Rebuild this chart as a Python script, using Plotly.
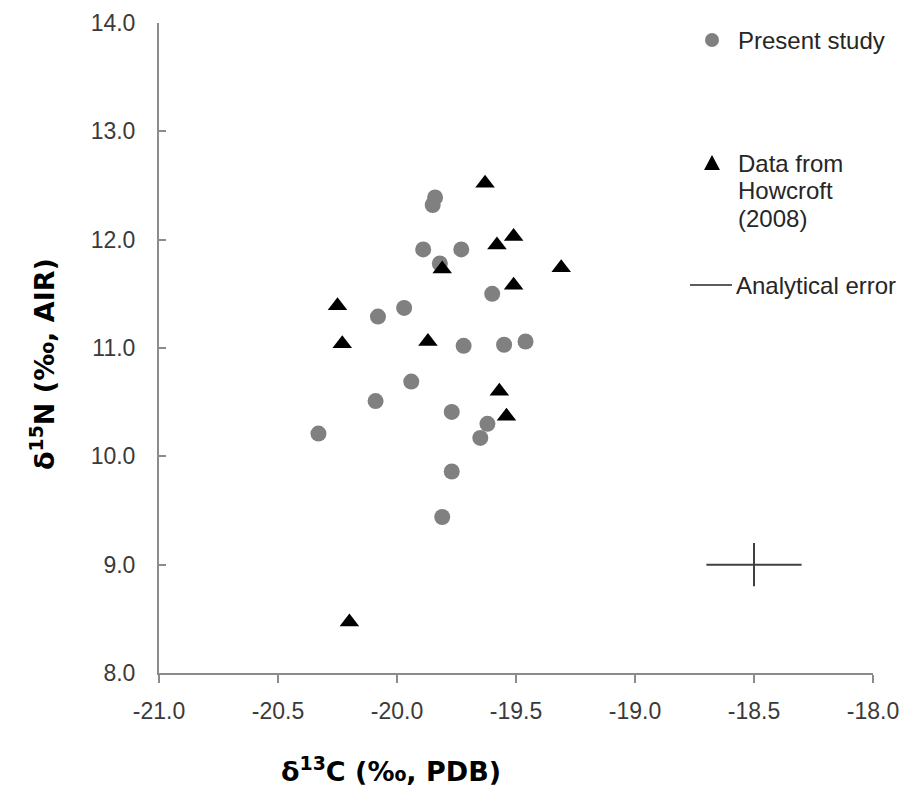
import plotly.graph_objects as go

# Present study (d13C, d15N)
present_x = [-19.84, -19.85, -19.89, -19.73, -19.82, -19.60, -19.97, -20.08, -19.72, -19.55,
             -19.46, -19.94, -20.09, -19.77, -19.62, -19.65, -20.33, -19.77, -19.81]
present_y = [12.39, 12.32, 11.91, 11.91, 11.78, 11.50, 11.37, 11.29, 11.02, 11.03,
             11.06, 10.69, 10.51, 10.41, 10.30, 10.17, 10.21, 9.86, 9.44]

# Data from Howcroft (2008)
howcroft_x = [-19.63, -19.51, -19.58, -19.81, -19.31, -19.51, -20.25, -20.23, -19.87, -19.57, -19.54, -20.20]
howcroft_y = [12.52, 12.03, 11.95, 11.73, 11.74, 11.58, 11.39, 11.04, 11.06, 10.60, 10.37, 8.47]

# Analytical error cross
err_x = [-18.5]
err_y = [9.0]
err_dx = [0.2]
err_dy = [0.2]

x_ticks = [-21.0, -20.5, -20.0, -19.5, -19.0, -18.5, -18.0]
x_ticktext = ["-21.0", "-20.5", "-20.0", "-19.5", "-19.0", "-18.5", "-18.0"]
y_ticks = [8.0, 9.0, 10.0, 11.0, 12.0, 13.0, 14.0]
y_ticktext = ["8.0", "9.0", "10.0", "11.0", "12.0", "13.0", "14.0"]

FONT = "Liberation Sans, Arial, sans-serif"
TITLE_FONT = "DejaVu Sans, Liberation Sans, sans-serif"
TICK_COLOR = "#3a3a3a"
AXIS_COLOR = "#8c8c8c"

fig = go.Figure()
fig.add_trace(go.Scatter(x=present_x, y=present_y, mode="markers",
                         marker=dict(symbol="circle", size=16, color="#808080"),
                         name="Present study"))
fig.add_trace(go.Scatter(x=howcroft_x, y=howcroft_y, mode="markers",
                         marker=dict(symbol="triangle-up", size=17, color="#000000"),
                         name="Data from Howcroft (2008)"))
fig.add_trace(go.Scatter(x=err_x, y=err_y, mode="markers",
                         marker=dict(size=1, color="rgba(0,0,0,0)"),
                         error_x=dict(type="data", array=err_dx, width=0, thickness=2, color="#404040"),
                         error_y=dict(type="data", array=err_dy, width=0, thickness=2, color="#404040"),
                         name="Analytical error"))

W, H = 906, 788
L, R, T, B = 159, 33, 23, 115
pw, ph = W - L - R, H - T - B


def px(xp):
    return (xp - L) / pw


def py(yp):
    return (H - B - yp) / ph


annotations = []
shapes = []
leg_font = dict(family=FONT, size=24, color="#262626")
# legend: present study
shapes.append(dict(type="circle", xref="paper", yref="paper", xsizemode="pixel", ysizemode="pixel",
                   xanchor=px(712), yanchor=py(40), x0=-7, x1=7, y0=-7, y1=7,
                   fillcolor="#808080", line=dict(width=0)))
annotations.append(dict(text="Present study", x=px(736), y=py(40), xref="paper", yref="paper",
                        xanchor="left", yanchor="middle", showarrow=False, font=leg_font))
# legend: howcroft
shapes.append(dict(type="path", xref="paper", yref="paper", xsizemode="pixel", ysizemode="pixel",
                   xanchor=px(712), yanchor=py(163), path="M -8,-7 L 8,-7 L 0,8 Z",
                   fillcolor="#000000", line=dict(width=0)))
for i, t in enumerate(["Data from", "Howcroft", "(2008)"]):
    annotations.append(dict(text=t, x=px(736), y=py(163 + 27.5 * i), xref="paper", yref="paper",
                            xanchor="left", yanchor="middle", showarrow=False, font=leg_font))
# legend: analytical error
shapes.append(dict(type="line", xref="paper", yref="paper", x0=px(690), x1=px(732), y0=py(285), y1=py(285),
                   line=dict(color="#262626", width=1.5)))
annotations.append(dict(text="Analytical error", x=px(734), y=py(285), xref="paper", yref="paper",
                        xanchor="left", yanchor="middle", showarrow=False, font=leg_font))

# axis titles
title_font = dict(family=TITLE_FONT, size=27, color="#000000")
annotations.append(dict(text="<b>δ<sup>13</sup>C (‰, PDB)</b>", x=px(391), y=py(769), xref="paper", yref="paper",
                        xanchor="center", yanchor="middle", showarrow=False, font=title_font))
annotations.append(dict(text="<b>δ<sup>15</sup>N (‰, AIR)</b>", x=px(42), y=py(364), xref="paper", yref="paper",
                        xanchor="center", yanchor="middle", showarrow=False, textangle=-90, font=title_font))

fig.update_layout(
    width=W, height=H,
    margin=dict(l=L, r=R, t=T, b=B, pad=0),
    paper_bgcolor="white", plot_bgcolor="white",
    showlegend=False,
    font=dict(family=FONT, size=23, color=TICK_COLOR),
    shapes=shapes, annotations=annotations,
    xaxis=dict(range=[-21, -18], tickvals=x_ticks, ticktext=x_ticktext, showgrid=False, zeroline=False,
               showline=True, linecolor=AXIS_COLOR, linewidth=2, ticks="outside", ticklen=8,
               tickwidth=2, tickcolor=AXIS_COLOR, ticklabelstandoff=8, automargin=False,
               tickfont=dict(family=FONT, size=23, color=TICK_COLOR)),
    yaxis=dict(range=[8, 14], tickvals=y_ticks, ticktext=y_ticktext, showgrid=False, zeroline=False,
               showline=True, linecolor=AXIS_COLOR, linewidth=2, ticks="inside", ticklen=7,
               tickwidth=2, tickcolor=AXIS_COLOR, ticklabelstandoff=17, automargin=False,
               tickfont=dict(family=FONT, size=23, color=TICK_COLOR)),
)

fig.write_html("out.html", config={"displayModeBar": False},
               post_script="document.body.style.margin='0';document.body.style.overflow='hidden';")
